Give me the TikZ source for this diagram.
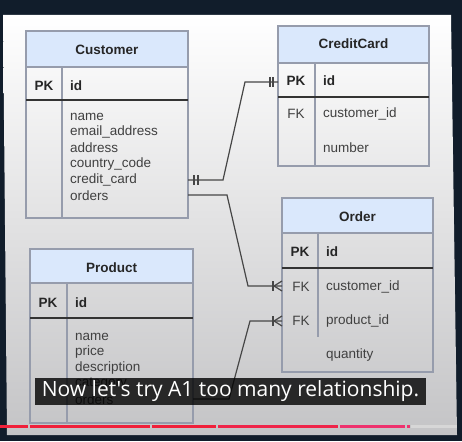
\documentclass[tikz,border=0pt]{standalone}
\usepackage{fontspec}
\setmainfont{Liberation Sans}
\newfontfamily\subfont{Open Sans}
\usetikzlibrary{calc}
\definecolor{bgdark}{RGB}{17,29,43}
\definecolor{hdr}{RGB}{218,232,252}
\definecolor{tborder}{RGB}{150,156,172}
\definecolor{connc}{RGB}{70,70,70}
\definecolor{ytred}{RGB}{240,32,58}
\definecolor{ytpink}{RGB}{238,50,110}
\definecolor{ytgray}{RGB}{215,215,215}
\begin{document}
\begin{tikzpicture}[x=1pt,y=-1pt,
  tbl/.style={draw=tborder, line width=1.1pt},
  pkline/.style={draw=black!80, line width=1.4pt},
  ttl/.style={font=\fontsize{13.5}{16}\selectfont\bfseries, text=black!85, inner sep=0},
  keyb/.style={font=\fontsize{13.5}{16}\selectfont\bfseries, text=black!85, inner sep=0},
  keyn/.style={font=\fontsize{13.5}{16}\selectfont, text=black!75, inner sep=0},
  fldb/.style={font=\fontsize{13.5}{16}\selectfont\bfseries, text=black!85, anchor=west, inner sep=0},
  fld/.style={font=\fontsize{13.5}{16}\selectfont, text=black!75, anchor=west, inner sep=0},
  conn/.style={draw=connc, line width=1.2pt},
  bar/.style={line width=3pt}]
\useasboundingbox (0,0) rectangle (462,441);
\fill[bgdark] (0,0) rectangle (462,441);
\shade[top color=white, middle color={rgb,255:red,243;green,243;blue,243}, bottom color={rgb,255:red,196;green,196;blue,198}]
  (3,15) -- (451,15) -- (457,435) -- (7,435) -- cycle;

% ---------- Customer ----------
\fill[hdr] (26,31) rectangle (188,67);
\draw[tbl] (26,31) rectangle (188,218);
\draw[tbl] (26,67) -- (188,67);
\draw[tbl] (62,67) -- (62,218);
\draw[pkline] (26,100) -- (188,100);
\node[ttl] (cust) at (107,50) {Customer};
\node[keyb] (custpk) at (44,86) {PK};
\node[fldb] (custid) at (70,86) {id};
\node[fld] (cf1) at (70,117) {name};
\node[fld] (cf2) at (70,132) {email\_address};
\node[fld] (cf3) at (70,148) {address};
\node[fld] (cf4) at (70,164) {country\_code};
\node[fld] (cf5) at (70,180) {credit\_card};
\node[fld] (cf6) at (70,196) {orders};

% ---------- CreditCard ----------
\fill[hdr] (278,26) rectangle (429,63);
\draw[tbl] (278,26) rectangle (429,166);
\draw[tbl] (278,63) -- (429,63);
\draw[tbl] (315,63) -- (315,166);
\draw[pkline] (278,97) -- (429,97);
\node[ttl] (cc) at (353.5,44) {CreditCard};
\node[keyb] (ccpk) at (296,81) {PK};
\node[fldb] (ccid) at (323,81) {id};
\node[keyn] (ccfk) at (296,114) {FK};
\node[fld] (ccf1) at (323,114) {customer\_id};
\node[fld] (ccf2) at (323,148) {number};

% ---------- Order ----------
\fill[hdr] (282,198) rectangle (433,233);
\draw[tbl] (282,198) rectangle (433,372);
\draw[tbl] (282,233) -- (433,233);
\draw[tbl] (318,233) -- (318,337);
\draw[pkline] (282,268) -- (433,268);
\node[ttl] (ord) at (357.5,217) {Order};
\node[keyb] (ordpk) at (300,252) {PK};
\node[fldb] (ordid) at (326,252) {id};
\node[keyn] (ordfk1) at (301,287) {FK};
\node[fld] (of1) at (326,287) {customer\_id};
\node[keyn] (ordfk2) at (301,321) {FK};
\node[fld] (of2) at (326,321) {product\_id};
\node[fld] (of3) at (326,355) {quantity};

% ---------- Product ----------
\fill[hdr] (30,249) rectangle (193,283);
\draw[tbl] (30,249) rectangle (193,423);
\draw[tbl] (30,283) -- (193,283);
\draw[tbl] (67,283) -- (67,423);
\draw[pkline] (30,318) -- (193,318);
\node[ttl] (prod) at (111.5,268) {Product};
\node[keyb] (prodpk) at (48,303) {PK};
\node[fldb] (prodid) at (75,303) {id};
\node[fld] (pf1) at (75,337) {name};
\node[fld] (pf2) at (75,352) {price};
\node[fld] (pf3) at (75,368) {description};
\node[fld] (pf4) at (75,384) {category};
\node[fld] (pf5) at (75,400) {orders};

% ---------- connectors ----------
\coordinate (c1) at (188,180);
\coordinate (c1b) at (223,180);
\coordinate (c1c) at (245,82);
\coordinate (cc1) at (278,82);
\draw[conn] (c1) -- (c1b) -- (c1c) -- (cc1);
\draw[conn] ([xshift=6pt]c1) ++(0,-5) -- ++(0,10);
\draw[conn] ([xshift=10pt]c1) ++(0,-5) -- ++(0,10);
\draw[conn] ([xshift=-8pt]cc1) ++(0,-5) -- ++(0,10);
\draw[conn] ([xshift=-5pt]cc1) ++(0,-5) -- ++(0,10);

\coordinate (c2) at (188,195);
\coordinate (c2b) at (227,195);
\coordinate (c2c) at (248,286);
\coordinate (o1) at (282,286);
\draw[conn] (c2) -- (c2b) -- (c2c) -- (o1);
\draw[conn] ([xshift=-9pt]o1) ++(0,-5) -- ++(0,10);
\draw[conn] ([xshift=-8pt]o1) -- ([yshift=5pt]o1);
\draw[conn] ([xshift=-8pt]o1) -- ([yshift=-5pt]o1);

\coordinate (p1) at (193,399);
\coordinate (p1b) at (229,399);
\coordinate (p1c) at (250,321);
\coordinate (o2) at (282,321);
\draw[conn] (p1) -- (p1b) -- (p1c) -- (o2);
\draw[conn] ([xshift=-9pt]o2) ++(0,-5) -- ++(0,10);
\draw[conn] ([xshift=-8pt]o2) -- ([yshift=5pt]o2);
\draw[conn] ([xshift=-8pt]o2) -- ([yshift=-5pt]o2);

% ---------- subtitle ----------
\fill[black, opacity=0.8] (35,378) rectangle (426,405);
\node[text=white, inner sep=0, font=\subfont\fontsize{21}{24}\selectfont] (sub) at (230.5,391.5) {Now let's try A1 too many relationship.};

% ---------- progress bar ----------
\draw[bar, ytgray] (411,426) -- (457,426);
\draw[bar, ytred] (0,426) -- (28,426);
\draw[bar, ytred] (30,426) -- (150,426);
\draw[bar, ytred] (152,426) -- (216,426);
\draw[bar, ytred!70!ytpink] (218,426) -- (338,426);
\draw[bar, ytpink] (340,426) -- (405,426);
\draw[bar, ytpink] (407,426) -- (410,426);
\end{tikzpicture}
\end{document}
